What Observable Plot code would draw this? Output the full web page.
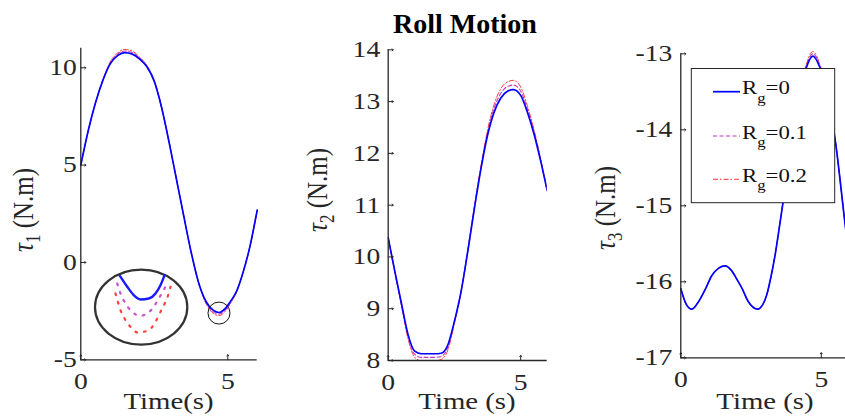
<!DOCTYPE html>
<html>
<head>
<meta charset="utf-8">
<script src="https://cdn.jsdelivr.net/npm/d3@7"></script>
<script src="https://cdn.jsdelivr.net/npm/@observablehq/plot@0.6"></script>
<style>
  html, body { margin: 0; padding: 0; background: #fff; overflow: hidden; }
  #fig { position: relative; width: 845px; height: 416px; overflow: hidden; background: #fff; }
  #fig > svg { position: absolute; top: 0; }
</style>
</head>
<body>
<div id="fig"></div>
<script>
// ---- Joint torques during the roll motion, for three values of R_g ----
const gainLabels = ["0", "0.1", "0.2"];

// tau_1
const time1 = [0, 0.25, 0.5, 0.75, 1, 1.25, 1.5, 1.75, 2, 2.25, 2.5, 2.75, 3, 3.25, 3.5, 3.75, 4, 4.25, 4.5, 4.7, 4.9, 5.1, 5.3, 5.5, 5.75, 6];
const tau1Rg0  = [5.0, 6.75, 8.2, 9.35, 10.2, 10.62, 10.78, 10.7, 10.45, 10.05, 9.3, 7.95, 6.2, 4.3, 2.4, 0.55, -1.0, -1.98, -2.45, -2.57, -2.38, -1.98, -1.47, -0.6, 0.8, 2.69];
const tau1Rg01 = [5.0, 6.75, 8.2, 9.36, 10.25, 10.69, 10.86, 10.78, 10.5, 10.08, 9.31, 7.95, 6.2, 4.3, 2.4, 0.55, -1.0, -2.04, -2.54, -2.65, -2.46, -2.03, -1.49, -0.6, 0.8, 2.69];
const tau1Rg02 = [5.0, 6.75, 8.2, 9.37, 10.3, 10.76, 10.94, 10.86, 10.55, 10.11, 9.32, 7.95, 6.2, 4.3, 2.4, 0.55, -1.0, -2.08, -2.61, -2.73, -2.54, -2.08, -1.51, -0.6, 0.8, 2.69];

// tau_2
const time2 = [0, 0.25, 0.5, 0.75, 1, 1.25, 1.5, 1.75, 2, 2.25, 2.5, 2.75, 3, 3.25, 3.5, 3.75, 4, 4.25, 4.5, 4.72, 5, 5.25, 5.5, 5.75, 6];
const tau2Rg0  = [10.37, 9.72, 9.1, 8.5, 8.18, 8.13, 8.13, 8.13, 8.14, 8.3, 8.76, 9.33, 10.1, 10.93, 11.7, 12.35, 12.8, 13.07, 13.2, 13.23, 13.12, 12.8, 12.38, 11.86, 11.28];
const tau2Rg01 = [10.37, 9.71, 9.08, 8.46, 8.12, 8.06, 8.06, 8.06, 8.08, 8.25, 8.74, 9.33, 10.1, 10.95, 11.73, 12.4, 12.88, 13.16, 13.29, 13.32, 13.2, 12.86, 12.42, 11.88, 11.28];
const tau2Rg02 = [10.37, 9.7, 9.06, 8.42, 8.06, 7.99, 7.98, 7.99, 8.02, 8.2, 8.72, 9.33, 10.12, 10.97, 11.76, 12.45, 12.95, 13.25, 13.38, 13.41, 13.28, 12.92, 12.46, 11.9, 11.28];

// tau_3
const time3 = [0, 0.2, 0.39, 0.6, 0.87, 1.1, 1.35, 1.58, 1.8, 2.0, 2.17, 2.4, 2.73, 2.9, 3.06, 3.2, 3.36, 3.5, 3.66, 3.9, 4.1, 4.3, 4.45, 4.7, 4.95, 5.2, 5.5, 5.85, 6];
const tau3Rg0  = [-16.09, -16.3, -16.36, -16.28, -16.1, -15.92, -15.82, -15.79, -15.85, -15.97, -16.08, -16.26, -16.36, -16.31, -16.17, -15.95, -15.64, -15.3, -14.9, -14.3, -13.8, -13.4, -13.2, -13.03, -13.18, -13.5, -14.15, -15.25, -15.7];
const tau3Rg01 = [-16.09, -16.3, -16.36, -16.28, -16.1, -15.92, -15.82, -15.79, -15.85, -15.97, -16.08, -16.26, -16.36, -16.31, -16.17, -15.95, -15.64, -15.3, -14.9, -14.3, -13.8, -13.39, -13.18, -13.0, -13.16, -13.5, -14.15, -15.25, -15.7];
const tau3Rg02 = [-16.09, -16.3, -16.36, -16.28, -16.1, -15.92, -15.82, -15.79, -15.85, -15.97, -16.08, -16.26, -16.36, -16.31, -16.17, -15.95, -15.64, -15.3, -14.9, -14.3, -13.8, -13.38, -13.16, -12.97, -13.14, -13.5, -14.15, -15.25, -15.7];

// Magnified view of the tau_1 minimum (drawn in the empty lower-left area)
const lensCentre = {t: 4.7, v: -2.6};
const zoomEllipse = {t: 2.07, v: -2.32, dt: 1.57, dv: 1.93};
const insetRg0T  = [1.33, 1.58, 1.80, 2.03, 2.31, 2.54, 2.71, 2.85];
const insetRg0V  = [-0.69, -1.25, -1.68, -1.90, -1.85, -1.59, -1.17, -0.65];
const insetRg01T = [1.24, 1.35, 1.52, 1.75, 2.01, 2.26, 2.48, 2.65, 2.82, 2.96];
const insetRg01V = [-1.08, -1.59, -2.11, -2.54, -2.74, -2.62, -2.28, -1.85, -1.42, -0.96];
const insetRg02T = [1.18, 1.26, 1.35, 1.52, 1.69, 1.94, 2.31, 2.54, 2.71, 2.88, 2.99, 3.05];
const insetRg02V = [-1.59, -2.02, -2.45, -2.96, -3.31, -3.6, -3.48, -3.05, -2.54, -2.02, -1.59, -1.25];

// Tick values
const xTicks = [0, 5];
const yTicks1 = [-5, 0, 5, 10];
const yTicks2 = [8, 9, 10, 11, 12, 13, 14];
const yTicks3 = [-17, -16, -15, -14, -13];

// ---- styling ----
const AXIS = "#262626";
const SERIF = '"Liberation Serif", "Times New Roman", serif';
const STRETCH = 1.2;
const lineStyle = {
  "0":   {stroke: "#0000ff", strokeWidth: 1.7, strokeDasharray: null},
  "0.1": {stroke: "#c03cc0", strokeWidth: 1.1, strokeDasharray: "4,2.5"},
  "0.2": {stroke: "#ff2020", strokeWidth: 0.9, strokeDasharray: "5,2,1.5,2"}
};
const drawOrder = ["0.2", "0.1", "0"];

function rowsOf(time, byGain) {
  return gainLabels.flatMap(g => time.map((t, i) => ({t, v: byGain[g][i], g})));
}
function pairs(ts, vs) { return ts.map((t, i) => ({t, v: vs[i]})); }

function panel({rows, yDomain, yTicks, left, width, mL, mR, mT, mB, tickPad, clip = false, extra = []}) {
  const xDomain = [0, 6];
  const marks = [
    ...drawOrder.map(g => Plot.line(rows.filter(r => r.g === g), {
      x: "t", y: "v", curve: "monotone-x", clip, ...lineStyle[g]
    })),
    ...extra,
    Plot.ruleX([xDomain[0]], {stroke: AXIS, strokeWidth: 1.3}),
    Plot.ruleY([yDomain[0]], {stroke: AXIS, strokeWidth: 1.3}),
    Plot.vector(xTicks, {x: d => d, y: () => yDomain[0], rotate: 0, length: 5, anchor: "start", stroke: AXIS, strokeWidth: 1}),
    Plot.vector(yTicks, {x: () => xDomain[0], y: d => d, rotate: 90, length: 5, anchor: "start", stroke: AXIS, strokeWidth: 1}),
    Plot.axisX(xTicks, {tickSize: 0, tickPadding: 13, fontSize: 23, label: null, tickFormat: d => String(d)}),
    Plot.axisY(yTicks, {tickSize: 0, tickPadding: tickPad, fontSize: 23, label: null, tickFormat: d => String(d)})
  ];
  const svg = Plot.plot({
    width, height: 416,
    marginLeft: mL, marginRight: mR, marginTop: mT, marginBottom: mB,
    x: {domain: xDomain},
    y: {domain: yDomain},
    style: {fontFamily: SERIF, color: AXIS, background: "transparent", overflow: "visible"},
    marks
  });
  svg.style.left = left + "px";
  svg.querySelectorAll('g[aria-label$="tick label"] text').forEach(t => {
    t.setAttribute("transform", (t.getAttribute("transform") || "") + ` scale(${STRETCH},1)`);
  });
  return svg;
}

// Ellipse framing the magnified view, placed through the panel's scales
const ellipseMark = (index, {x, y}) => {
  const e = zoomEllipse;
  return d3.create("svg:ellipse")
    .attr("cx", x(e.t)).attr("cy", y(e.v))
    .attr("rx", Math.abs(x(e.t + e.dt) - x(e.t)))
    .attr("ry", Math.abs(y(e.v + e.dv) - y(e.v)))
    .attr("fill", "none").attr("stroke", "#333").attr("stroke-width", 2.2)
    .node();
};

const fig = document.getElementById("fig");

fig.append(panel({
  rows: rowsOf(time1, {"0": tau1Rg0, "0.1": tau1Rg01, "0.2": tau1Rg02}),
  yDomain: [-5, 11], yTicks: yTicks1,
  left: 0, width: 300, mL: 80.3, mR: 43.3, mT: 47.8, mB: 56.7, tickPad: 4,
  extra: [
    ellipseMark,
    Plot.line(pairs(insetRg02T, insetRg02V), {x: "t", y: "v", curve: "monotone-x", stroke: "#ff4040", strokeWidth: 2.2, strokeDasharray: "1.8,7"}),
    Plot.line(pairs(insetRg01T, insetRg01V), {x: "t", y: "v", curve: "monotone-x", stroke: "#c850d0", strokeWidth: 2.2, strokeDasharray: "1.8,7"}),
    Plot.line(pairs(insetRg0T, insetRg0V), {x: "t", y: "v", curve: "monotone-x", stroke: "#1a1aff", strokeWidth: 2.4}),
    Plot.dot([lensCentre], {x: "t", y: "v", r: 11, stroke: "#111", strokeWidth: 1, fill: "none"})
  ]
}));

fig.append(panel({
  rows: rowsOf(time2, {"0": tau2Rg0, "0.1": tau2Rg01, "0.2": tau2Rg02}),
  yDomain: [8, 14], yTicks: yTicks2, clip: true,
  left: 300, width: 270, mL: 87.7, mR: 23.3, mT: 49.3, mB: 56, tickPad: 8
}));

fig.append(panel({
  rows: rowsOf(time3, {"0": tau3Rg0, "0.1": tau3Rg01, "0.2": tau3Rg02}),
  yDomain: [-17, -13], yTicks: yTicks3,
  left: 570, width: 300, mL: 110.3, mR: 21.1, mT: 53.3, mB: 58.7, tickPad: 8.5
}));

// ---- titles, axis labels and legend ----
const overlay = d3.create("svg")
  .attr("width", 845).attr("height", 416)
  .style("left", "0px").style("pointer-events", "none")
  .attr("font-family", SERIF).attr("fill", AXIS);

overlay.append("text")
  .attr("x", 465).attr("y", 33).attr("text-anchor", "middle")
  .attr("font-size", 28).attr("font-weight", "bold").attr("fill", "#000")
  .text("Roll Motion");

const xLabels = [
  {cx: 168.5, text: "Time(s)"},
  {cx: 467, text: "Time (s)"},
  {cx: 765, text: "Time (s)"}
];
xLabels.forEach(l => {
  overlay.append("text")
    .attr("transform", `translate(${l.cx},409) scale(${STRETCH},1)`)
    .attr("text-anchor", "middle").attr("font-size", 24)
    .text(l.text);
});

const yLabels = [
  {x: 33, y: 210, sub: "1"},
  {x: 327, y: 190, sub: "2"},
  {x: 615, y: 208, sub: "3"}
];
yLabels.forEach(l => {
  const t = overlay.append("text")
    .attr("transform", `translate(${l.x},${l.y}) scale(${STRETCH},1) rotate(-90)`)
    .attr("text-anchor", "middle").attr("font-size", 25);
  t.append("tspan").attr("font-style", "italic").text("τ");
  t.append("tspan").attr("font-size", 17).attr("dy", 6).text(l.sub);
  t.append("tspan").attr("dy", -6).text(" (N.m)");
});

const legend = overlay.append("g");
legend.append("rect")
  .attr("x", 691.3).attr("y", 68.5).attr("width", 143.4).attr("height", 134.2)
  .attr("fill", "#fff").attr("stroke", AXIS).attr("stroke-width", 1);
const legendRows = [91.7, 136, 179.3];
gainLabels.forEach((g, i) => {
  const y = legendRows[i];
  const s = lineStyle[g];
  legend.append("line")
    .attr("x1", 713).attr("x2", 740).attr("y1", y).attr("y2", y)
    .attr("stroke", s.stroke).attr("stroke-width", s.strokeWidth)
    .attr("stroke-dasharray", s.strokeDasharray);
  const t = legend.append("text")
    .attr("transform", `translate(742,${y + 2.6}) scale(${STRETCH},1)`)
    .attr("font-size", 19).attr("fill", "#111");
  t.append("tspan").text("R");
  t.append("tspan").attr("font-size", 14).attr("dy", 8.5).text("g");
  t.append("tspan").attr("dy", -8.5).text("=" + g);
});

fig.append(overlay.node());
</script>
</body>
</html>
